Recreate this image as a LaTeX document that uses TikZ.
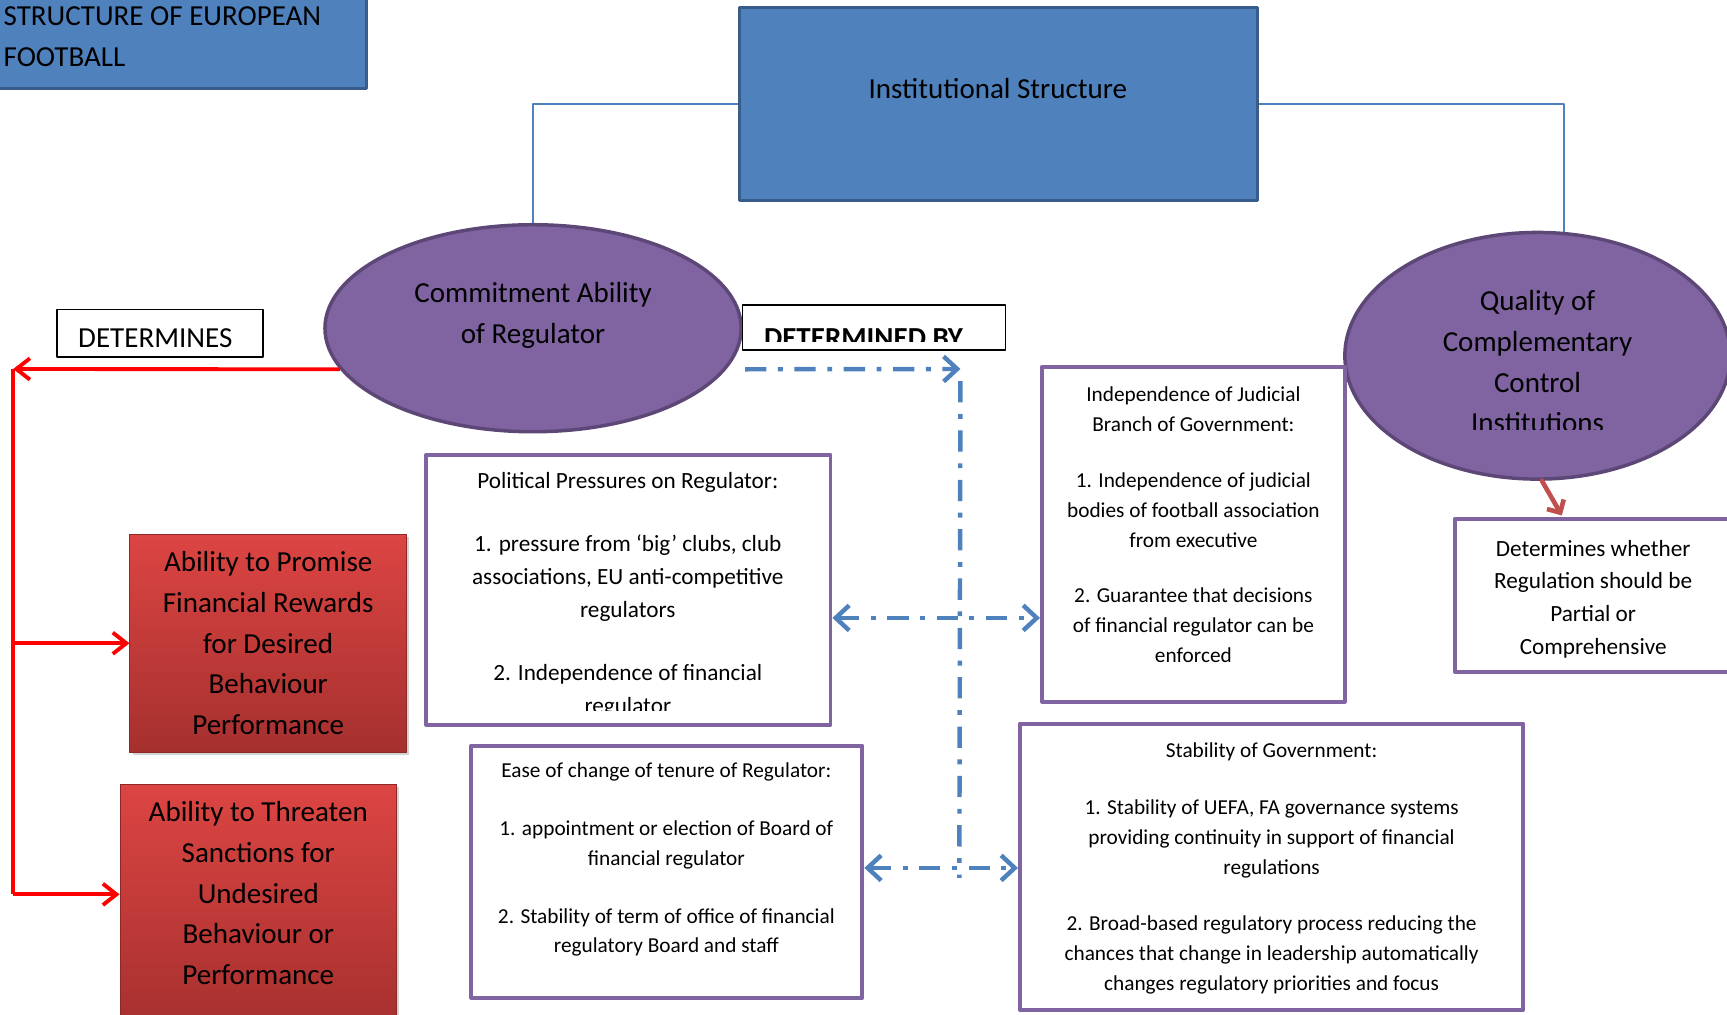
\documentclass[tikz,border=0pt]{standalone}
\usepackage{fontspec}
\setmainfont{Carlito}
\usetikzlibrary{arrows.meta,shapes.geometric,fit,shadows}

\definecolor{ofblue}{HTML}{4F81BD}
\definecolor{ofblueline}{HTML}{385D8A}
\definecolor{ofpurple}{HTML}{8064A2}
\definecolor{ofpurpleline}{HTML}{5C4776}
\definecolor{redtop}{HTML}{DC4543}
\definecolor{redbot}{HTML}{A5302E}
\definecolor{arrowred}{HTML}{C0504D}

\begin{document}
\begin{tikzpicture}[line cap=round,line join=round,x=0.02cm,y=-0.02cm,
  bluebox/.style={rectangle,fill=ofblue,draw=ofblueline,line width=1.6pt,inner sep=0pt},
  purplebox/.style={rectangle,fill=white,draw=ofpurple,line width=2pt,inner sep=0pt},
  tagbox/.style={rectangle,fill=white,draw=black,line width=0.8pt,inner sep=0pt},
  redbox/.style={rectangle,top color=redtop,bottom color=redbot,draw=redbot!85!black,line width=0.5pt,inner sep=0pt,
    drop shadow={shadow xshift=1.5pt,shadow yshift=-1.5pt,opacity=0.35}},
  oval/.style={ellipse,fill=ofpurple,draw=ofpurpleline,line width=1.8pt,inner sep=0pt},
  bigtxt/.style={font=\fontsize{15}{21}\selectfont,align=center,inner sep=0pt},
  midtxt/.style={font=\fontsize{12}{17}\selectfont,align=center,inner sep=0pt},
  smalltxt/.style={font=\fontsize{11}{15.4}\selectfont,align=center,inner sep=0pt},
  thinblue/.style={draw=ofblue,line width=0.8pt,line cap=butt},
  redlink/.style={draw=red,line width=2pt,line cap=butt},
  redarrow/.style={redlink,-{Straight Barb[length=7pt,width=11pt]}},
  bluelink/.style={draw=ofblue,line width=2.3pt,line cap=butt,dash pattern=on 11pt off 6pt on 2.5pt off 6pt},
  bluearrow/.style={bluelink,-{Straight Barb[length=7pt,width=13pt]}},
  bluearrows/.style={bluelink,{Straight Barb[length=7pt,width=13pt]}-{Straight Barb[length=7pt,width=13pt]}}]
\useasboundingbox (0,0) rectangle (1568,921);
\clip (0,0) rectangle (1568,921);

% boxes at the top
\node[bluebox,fit={(-10,-10) (333,80)}] (title) {};
\node[bigtxt,align=left,anchor=west] (titlelbl) at (3,33.5) {STRUCTURE OF EUROPEAN\\FOOTBALL};
\node[bluebox,fit={(671,7) (1142,182)}] (inst) {};
\node[bigtxt] (instlbl) at (906,80) {Institutional Structure};

% the two institutions
\node[oval,minimum width=7.56cm,minimum height=3.76cm] (commit) at (484,298) {};
\node[bigtxt] (commitlbl) at (484,286.5) {Commitment Ability\\of Regulator};
\node[oval,minimum width=7cm,minimum height=4.48cm] (quality) at (1396,323) {};
\begin{scope}
\clip (1200,200) rectangle (1580,390);
\node[bigtxt] (qualitylbl) at (1396,328.5) {Quality of\\Complementary\\Control\\Institutions};
\end{scope}
\draw[thinblue] (inst.west) -| (commit.north);
\draw[thinblue] (inst.east) -| (quality.78);

% tags
\node[tagbox,fit={(52,281) (239,324)}] (tagdet) {};
\node[bigtxt] (tagdetlbl) at (141,307) {DETERMINES};
\node[tagbox,fit={(674,277) (913,318)}] (tagby) {};
\begin{scope}
\clip (674,277) rectangle (913,310);
\node[bigtxt,font=\fontsize{15}{21}\selectfont\bfseries,anchor=base] (tagbylbl) at (784,315.5) {DETERMINED BY};
\end{scope}

% red boxes
\node[redbox,fit={(118,485) (369,683)}] (reward) {};
\node[bigtxt] (rewardlbl) at (243.5,584) {Ability to Promise\\Financial Rewards\\for Desired\\Behaviour\\Performance};
\node[redbox,fit={(109,712) (360,935)}] (sanction) {};
\node[bigtxt] (sanctionlbl) at (234.5,811) {Ability to Threaten\\Sanctions for\\Undesired\\Behaviour or\\Performance};

% factor boxes
\node[purplebox,fit={(387,413) (754,658)}] (pressure) {};
\begin{scope}
\clip (387,413) rectangle (754,645);
\node[midtxt] (pressurelbl) at (570,540) {Political Pressures on Regulator:\\[15.5pt]1. pressure from `big' clubs, club\\associations, EU anti-competitive\\regulators\\[15.5pt]2. Independence of financial\\regulator};
\end{scope}
\node[purplebox,fit={(946,333) (1221,637)}] (judicial) {};
\node[smalltxt] (judiciallbl) at (1083.5,476.5) {Independence of Judicial\\Branch of Government:\\[13.5pt]1. Independence of judicial\\bodies of football association\\from executive\\[13.5pt]2. Guarantee that decisions\\of financial regulator can be\\enforced};
\node[purplebox,fit={(1321,471) (1580,610)}] (whether) {};
\node[midtxt] (whetherlbl) at (1446.5,544) {Determines whether\\Regulation should be\\Partial or\\Comprehensive};
\node[purplebox,fit={(428,677) (783,906)}] (tenure) {};
\node[smalltxt] (tenurelbl) at (605,780.5) {Ease of change of tenure of Regulator:\\[14.5pt]1. appointment or election of Board of\\financial regulator\\[14.5pt]2. Stability of term of office of financial\\regulatory Board and staff};
\node[purplebox,fit={(926,657) (1383,917)}] (govern) {};
\node[smalltxt] (governlbl) at (1154.5,788.5) {Stability of Government:\\[14pt]1. Stability of UEFA, FA governance systems\\providing continuity in support of financial\\regulations\\[14pt]2. Broad-based regulatory process reducing the\\chances that change in leadership automatically\\changes regulatory priorities and focus};

% red connectors
\coordinate (rtop) at (12,335);
\coordinate (rbot) at (12,812);
\draw[redarrow] (commit.192) -- (rtop);
\draw[redlink] (rtop) -- (rbot);
\draw[redarrow] (rtop |- reward.west) -- (reward.west);
\draw[redarrow] (rbot) -- (rbot -| sanction.west);
\coordinate (qtip) at (1418,468);
\draw[draw=arrowred,line width=2.4pt,-{Straight Barb[length=5pt,width=10pt]}] (quality.272) -- (qtip);

% blue dash-dot connectors
\coordinate (dcorner) at (872,335);
\coordinate (dtop) at (872,346);
\coordinate (dmid) at (872,561);
\coordinate (dlow) at (872,788);
\coordinate (dbot) at (871,797);
\draw[bluearrow,shorten <=0.34cm] (commit.348) -- (dcorner);
\draw[bluelink] (dtop) -- (dbot);
\draw[bluearrows] (pressure.east |- dmid) -- (judicial.west |- dmid);
\draw[bluearrows] (tenure.east |- dlow) -- (govern.west |- dlow);
\end{tikzpicture}
\end{document}
